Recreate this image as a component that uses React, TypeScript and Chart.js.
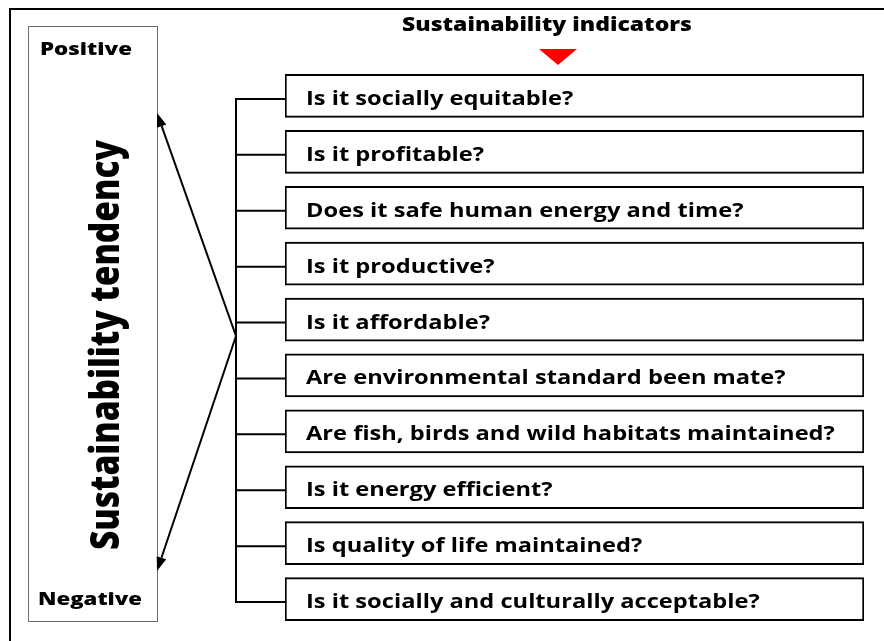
import { useEffect, useRef } from 'react';
import { Chart, registerables } from 'chart.js';

Chart.register(...registerables);

const indicators = [
  'Is it socially equitable?',
  'Is it profitable?',
  'Does it safe human energy and time?',
  'Is it productive?',
  'Is it affordable?',
  'Are environmental standard been mate?',
  'Are fish, birds and wild habitats maintained?',
  'Is it energy efficient?',
  'Is quality of life maintained?',
  'Is it socially and culturally acceptable?',
];
const boxValues = [1, 1, 1, 1, 1, 1, 1, 1, 1, 1];
const headerTitle = 'Sustainability indicators';
const axisTitle = 'Sustainability tendency';
const topLabel = 'Positive';
const bottomLabel = 'Negative';

const FONT = '"Open Sans", Lato, sans-serif';
const LABEL_STRETCH = 1.245;

function fillFit(ctx: CanvasRenderingContext2D, text: string, x: number, y: number, width: number) {
  const w = ctx.measureText(text).width;
  const s = width / w;
  ctx.save();
  ctx.translate(x, y);
  ctx.scale(s, 1);
  ctx.textAlign = 'left';
  ctx.fillText(text, 0, 0);
  ctx.restore();
}

function fillStretch(ctx: CanvasRenderingContext2D, text: string, x: number, y: number, s: number) {
  ctx.save();
  ctx.translate(x, y);
  ctx.scale(s, 1);
  ctx.textAlign = 'left';
  ctx.fillText(text, 0, 0);
  ctx.restore();
}

function arrow(ctx: CanvasRenderingContext2D, x0: number, y0: number, x1: number, y1: number) {
  const ang = Math.atan2(y1 - y0, x1 - x0);
  const len = 14;
  const half = 5;
  const bx = x1 - len * Math.cos(ang);
  const by = y1 - len * Math.sin(ang);
  ctx.beginPath();
  ctx.moveTo(x0, y0);
  ctx.lineTo(bx, by);
  ctx.stroke();
  ctx.beginPath();
  ctx.moveTo(x1, y1);
  ctx.lineTo(bx + half * Math.sin(ang), by - half * Math.cos(ang));
  ctx.lineTo(bx - half * Math.sin(ang), by + half * Math.cos(ang));
  ctx.closePath();
  ctx.fill();
}

const diagramPlugin = {
  id: 'diagram',
  afterDraw(chart: any) {
    const ctx: CanvasRenderingContext2D = chart.ctx;
    const ys = chart.scales.y;
    const area = chart.chartArea;
    ctx.save();
    ctx.fillStyle = '#000';
    ctx.strokeStyle = '#000';
    // outer frame
    ctx.lineWidth = 2;
    ctx.beginPath();
    ctx.moveTo(10, 641);
    ctx.lineTo(10, 9);
    ctx.lineTo(884, 9);
    ctx.stroke();
    // left box
    ctx.strokeStyle = '#6b6b6b';
    ctx.lineWidth = 1;
    ctx.strokeRect(28.5, 26.5, 129, 595);
    // bracket
    ctx.strokeStyle = '#000';
    ctx.lineWidth = 2;
    const bx = area.left - 49;
    const off = 3;
    const first = ys.getPixelForValue(0) + off;
    const last = ys.getPixelForValue(indicators.length - 1) + off;
    ctx.beginPath();
    ctx.moveTo(bx, first - 1);
    ctx.lineTo(bx, last + 1);
    indicators.forEach((_, i) => {
      const py = ys.getPixelForValue(i) + off;
      ctx.moveTo(bx, py);
      ctx.lineTo(area.left, py);
    });
    ctx.stroke();
    // arrows
    const vy = 336;
    arrow(ctx, bx, vy, 157, 113);
    arrow(ctx, bx, vy, 157, 571);
    // red marker
    ctx.fillStyle = '#ff0000';
    ctx.beginPath();
    ctx.moveTo(539, 49);
    ctx.lineTo(577, 49);
    ctx.lineTo(558, 65);
    ctx.closePath();
    ctx.fill();
    // indicator labels (category axis labels)
    ctx.fillStyle = '#000';
    ctx.textBaseline = 'alphabetic';
    ctx.font = `bold 19px ${FONT}`;
    const labels: string[] = ys.getLabels();
    labels.forEach((t, i) => {
      fillStretch(ctx, t, area.left + 21, ys.getPixelForValue(i) + 9, LABEL_STRETCH);
    });
    // texts
    ctx.font = `800 20px ${FONT}`;
    fillFit(ctx, headerTitle, 402, 31, 290);
    ctx.font = `800 18px ${FONT}`;
    fillFit(ctx, topLabel, 40, 55, 92);
    fillFit(ctx, bottomLabel, 38, 605, 104);
    // vertical title
    ctx.save();
    ctx.translate(119, 550);
    ctx.rotate(-Math.PI / 2);
    ctx.font = `800 41px ${FONT}`;
    fillFit(ctx, axisTitle, 0, 0, 410);
    ctx.restore();
    ctx.restore();
  },
};

export default function App() {
  const ref = useRef<HTMLCanvasElement | null>(null);
  useEffect(() => {
    if (!ref.current) return;
    const chart = new Chart(ref.current, {
      type: 'bar',
      data: {
        labels: indicators,
        datasets: [
          {
            data: boxValues,
            backgroundColor: '#ffffff',
            borderColor: '#000000',
            borderWidth: 2,
            borderSkipped: false,
            barThickness: 43,
          },
        ],
      },
      options: {
        indexAxis: 'y',
        responsive: false,
        animation: false,
        layout: { padding: { left: 285, right: 20, top: 68, bottom: 14 } },
        plugins: {
          legend: { display: false },
          tooltip: { enabled: false },
          title: { display: false },
        },
        scales: {
          x: { display: false, min: 0, max: 1 },
          y: {
            type: 'category',
            position: 'left',
            offset: true,
            grid: { display: false },
            border: { display: false },
            afterFit: (s: any) => {
              s.width = 0;
              s.paddingTop = 0;
              s.paddingBottom = 0;
            },
            ticks: { display: false },
          },
        },
      },
      plugins: [diagramPlugin],
    } as any);
    return () => chart.destroy();
  }, []);
  return (
    <div style={{ position: 'absolute', left: 0, top: 0, width: 884, height: 641, background: '#fff' }}>
      <canvas ref={ref} width={884} height={641} style={{ display: 'block' }} />
    </div>
  );
}
